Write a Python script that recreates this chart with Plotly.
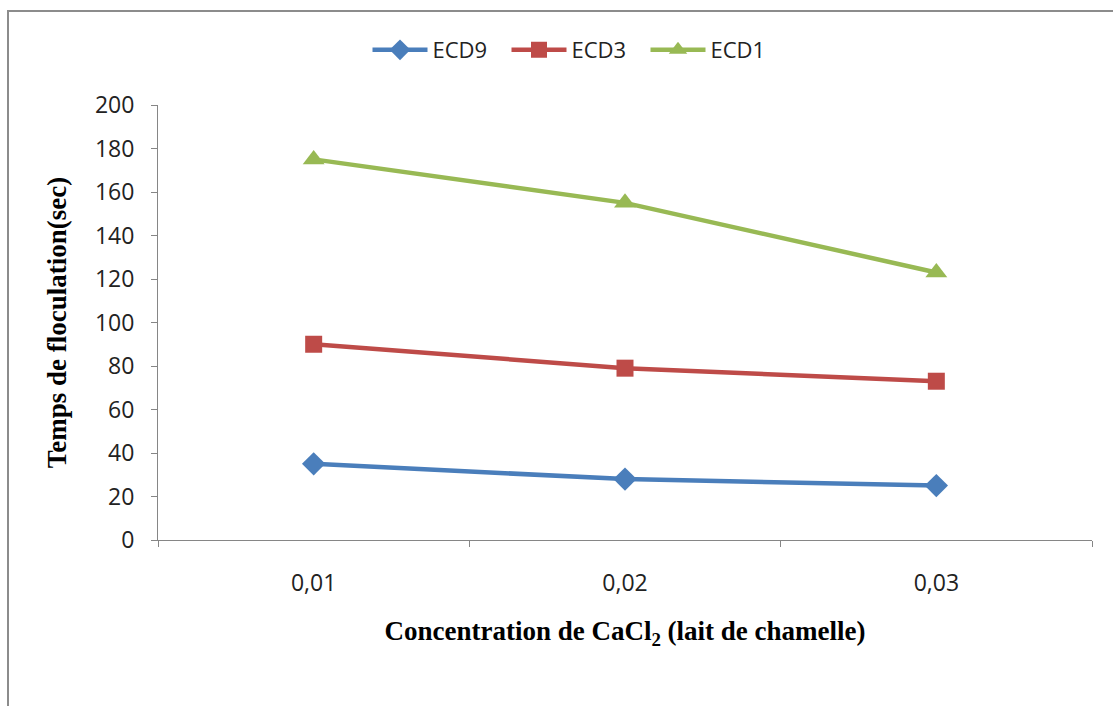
import plotly.graph_objects as go

categories = ["0,01", "0,02", "0,03"]
ecd9 = [35, 28, 25]
ecd3 = [90, 79, 73]
ecd1 = [175, 155, 123]
y_ticks = [0, 20, 40, 60, 80, 100, 120, 140, 160, 180, 200]

series = [
    ("ECD9", ecd9, "#4A7EBB", "diamond", 18),
    ("ECD3", ecd3, "#BE4B48", "square", 17),
    ("ECD1", ecd1, "#98B954", "triangle-up", 19),
]

fig = go.Figure()
for name, vals, color, sym, size in series:
    fig.add_trace(go.Scatter(
        x=categories, y=vals, name=name, mode="lines+markers",
        line=dict(color=color, width=4.5),
        marker=dict(symbol=sym, size=size, color=color),
    ))

L, R, T, B = 158, 21, 105, 166
W, H = 1113, 706
pw, ph = W - L - R, H - T - B

def px_x(p):
    return (p - L) / pw

def px_y(p):
    return (H - B - p) / ph

fig.update_layout(
    width=W, height=H,
    margin=dict(l=L, r=R, t=T, b=B, pad=0),
    paper_bgcolor="white", plot_bgcolor="white",
    showlegend=True,
    legend=dict(
        orientation="h", x=px_x(576), xanchor="center", y=px_y(50), yanchor="middle",
        font=dict(family="Open Sans", size=22, color="#222"),
        itemwidth=55, entrywidth=69, bgcolor="rgba(0,0,0,0)",
    ),
    xaxis=dict(
        type="category", range=[-0.5, 2.5],
        showline=True, linecolor="#868686", linewidth=1,
        ticks="outside", tickson="boundaries", ticklen=6, tickcolor="#868686",
        tickfont=dict(family="Open Sans", size=23, color="#222"),
        ticklabelstandoff=22,
        showgrid=False, zeroline=False,
        title=dict(
            text="Concentration de CaCl<sub>2</sub> (lait de chamelle)",
            font=dict(family="Liberation Serif", size=27, color="black", weight="bold"),
            standoff=24,
        ),
    ),
    yaxis=dict(
        range=[0, 200], tickvals=y_ticks,
        showline=True, linecolor="#868686", linewidth=1,
        ticks="outside", ticklen=6, tickcolor="#868686",
        tickfont=dict(family="Open Sans", size=23, color="#222"),
        ticklabelstandoff=12,
        showgrid=False, zeroline=False,
        title=dict(
            text="Temps de floculation(sec)",
            font=dict(family="Liberation Serif", size=27, color="black", weight="bold"),
            standoff=20,
        ),
    ),
    shapes=[dict(
        type="rect", xref="paper", yref="paper",
        x0=px_x(8), x1=px_x(1125), y0=px_y(720), y1=px_y(11),
        line=dict(color="#8C8C8C", width=2), fillcolor="rgba(0,0,0,0)", layer="below",
    )],
)

fig.write_html("out.html")
